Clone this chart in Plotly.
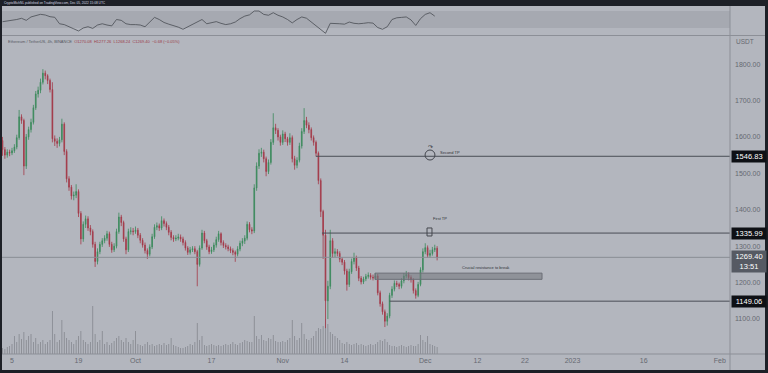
import pandas as pd
import plotly.graph_objects as go

# ---------------- data (ETH/USDT, 12h candles) ----------------
open_ = [1590,1565,1550,1558,1556,1562,1572,1598,1655,1645,1520,1600,1620,1640,1680,1718,1728,1750,1775,1768,
         1755,1730,1595,1588,1582,1592,1635,1560,1485,1462,1438,1440,1450,1390,1320,1360,1375,1350,1340,1305,
         1258,1285,1305,1315,1322,1334,1305,1290,1300,1340,1380,1365,1320,1290,1340,1342,1340,1344,1330,1316,
         1303,1288,1278,1298,1326,1352,1356,1350,1370,1362,1352,1338,1324,1320,1322,1325,1320,1310,1295,1283,
         1290,1293,1285,1250,1295,1336,1315,1298,1285,1290,1303,1318,1334,1310,1302,1298,1293,1288,1283,1278,
         1292,1308,1314,1322,1360,1345,1342,1460,1520,1555,1558,1540,1505,1530,1585,1625,1618,1600,1585,1608,
         1595,1585,1598,1540,1522,1536,1575,1615,1645,1632,1620,1598,1585,1555,1480,1395,1330,1150,1190,1315,
         1280,1285,1280,1264,1256,1232,1195,1230,1258,1268,1240,1212,1202,1210,1217,1220,1215,1213,1218,1172,
         1142,1120,1094,1108,1165,1182,1198,1195,1190,1205,1218,1222,1214,1208,1178,1165,1195,1235,1285,1296,
         1275,1280,1290,1294]
high = [1600,1572,1566,1565,1570,1580,1606,1674,1662,1650,1608,1628,1650,1688,1726,1738,1760,1786,1782,1772,
        1760,1750,1604,1596,1600,1650,1640,1566,1492,1468,1450,1470,1456,1396,1368,1384,1382,1358,1346,1312,
        1294,1312,1322,1330,1342,1340,1312,1308,1348,1392,1386,1370,1326,1348,1352,1350,1354,1350,1336,1322,
        1310,1294,1305,1334,1360,1365,1362,1382,1376,1368,1358,1344,1330,1330,1334,1332,1326,1316,1300,1298,
        1300,1300,1290,1302,1345,1342,1320,1304,1298,1310,1326,1342,1338,1316,1308,1304,1299,1294,1288,1300,
        1315,1322,1330,1368,1366,1352,1470,1530,1566,1570,1565,1546,1538,1594,1665,1636,1624,1606,1618,1614,
        1600,1610,1604,1548,1544,1584,1624,1679,1655,1640,1626,1604,1590,1560,1486,1400,1345,1205,1345,1322,
        1294,1292,1286,1270,1262,1238,1238,1266,1282,1274,1246,1218,1216,1224,1228,1226,1222,1226,1224,1178,
        1148,1126,1116,1172,1190,1206,1205,1200,1212,1226,1232,1228,1220,1212,1184,1202,1242,1294,1308,1302,
        1290,1298,1304,1300]
low = [1548,1540,1543,1547,1550,1556,1566,1592,1636,1495,1512,1592,1612,1634,1674,1708,1720,1744,1758,1745,
       1722,1585,1575,1570,1574,1585,1550,1475,1452,1428,1426,1432,1380,1305,1312,1350,1342,1330,1296,1243,
       1250,1278,1298,1308,1315,1298,1282,1284,1294,1334,1355,1312,1278,1284,1332,1330,1334,1322,1308,1296,
       1280,1265,1272,1292,1320,1344,1342,1344,1354,1344,1330,1316,1312,1314,1316,1312,1302,1288,1276,1277,
       1284,1278,1190,1244,1290,1308,1290,1278,1279,1284,1296,1312,1302,1295,1291,1286,1281,1275,1257,1272,
       1286,1300,1306,1316,1338,1333,1336,1452,1512,1545,1530,1492,1498,1524,1578,1608,1590,1576,1578,1586,
       1576,1578,1530,1510,1514,1530,1568,1608,1624,1610,1590,1576,1546,1470,1380,1265,1075,1100,1182,1268,
       1270,1272,1256,1248,1222,1178,1188,1224,1250,1232,1204,1195,1196,1204,1211,1208,1206,1207,1165,1134,
       1112,1078,1082,1102,1158,1176,1188,1182,1184,1198,1212,1206,1200,1170,1156,1160,1190,1228,1278,1268,
       1268,1274,1284,1261]
close = [1565,1550,1558,1556,1562,1572,1598,1655,1645,1520,1600,1620,1640,1680,1718,1728,1750,1775,1768,1755,
         1730,1595,1588,1582,1592,1635,1560,1485,1462,1438,1440,1450,1390,1320,1360,1375,1350,1340,1305,1258,
         1285,1305,1315,1322,1334,1305,1290,1300,1340,1380,1365,1320,1290,1340,1342,1340,1344,1330,1316,1303,
         1288,1278,1298,1326,1352,1356,1350,1370,1362,1352,1338,1324,1320,1322,1325,1320,1310,1295,1283,1290,
         1293,1285,1250,1295,1336,1315,1298,1285,1290,1303,1318,1334,1310,1302,1298,1293,1288,1283,1278,1292,
         1308,1314,1322,1360,1345,1342,1460,1520,1555,1558,1540,1505,1530,1585,1625,1618,1600,1585,1608,1595,
         1585,1598,1540,1522,1536,1575,1615,1645,1632,1620,1598,1585,1555,1480,1395,1330,1150,1190,1315,1280,
         1285,1280,1264,1256,1232,1195,1230,1258,1268,1240,1212,1202,1210,1217,1220,1215,1213,1218,1172,1142,
         1120,1094,1108,1165,1182,1198,1195,1190,1205,1218,1222,1214,1208,1178,1165,1195,1235,1285,1296,1275,
         1280,1290,1294,1269.4]
volume = [120,100,140,160,200,360,240,400,300,440,280,360,400,240,320,200,240,280,200,240,
          280,860,400,240,280,680,440,320,280,240,200,280,360,460,280,240,200,240,960,400,
          240,280,460,200,240,180,220,260,320,360,280,240,320,240,200,280,460,200,180,160,
          200,240,180,200,160,180,200,180,220,180,200,320,180,160,140,120,120,140,160,200,
          180,240,620,280,360,180,160,180,200,180,160,180,160,180,200,180,200,240,200,180,
          220,240,280,260,240,240,760,360,300,380,280,260,320,300,380,260,240,240,260,240,
          280,320,680,360,280,320,620,400,300,280,320,360,460,520,500,560,700,600,440,400,
          360,320,280,220,200,240,200,180,200,220,180,200,180,160,180,200,180,200,240,280,
          260,300,240,180,160,160,140,160,180,160,140,160,180,160,160,200,380,280,240,360,
          200,180,160,140]
rsi = [44.8,46,47.2,50,52.8,48,56,59.5,62.2,60.6,56.6,55.2,40,38,32,28,23,30,33,29,
       37,40,37,35,50,48,40,38,38,37,33,45,55,50,43,39,36,32,27,33,
       40,44,50,40,43,45,41,38,40,44,52,58,61,70,70,62,60,66,60,56,
       50,42,50,56,53,44,35,26,17.5,41,41,40,39,44,41,40,41,42.5,41.5,31,
       27,33,50,54,55,56,49,36,52,62,66,58]

x_tick_dates = ["2022-09-05","2022-09-19","2022-10-01","2022-10-17","2022-11-01","2022-11-14",
                "2022-12-01","2022-12-12","2022-12-22","2023-01-01","2023-01-16","2023-02-01"]
x_tick_text = ["5","19","Oct","17","Nov","14","Dec","12","22","2023","16","Feb"]

level_second_tp = 1546.83
level_first_tp = 1335.99
level_support = 1149.06
last_price = 1269.40
resist_low, resist_high = 1209, 1226

candle_dates = pd.date_range("2022-09-03", periods=len(close), freq="12h")
rsi_dates = pd.date_range("2022-09-03", periods=len(rsi), freq="D")

# ---------------- styling ----------------
W, H = 768, 373
BG = "#b3b6be"
BAND = "#a6a9b1"
DARK = "#1d2027"
LINE = "#4a4d55"
SEP = "#8c8f97"
TICK = "#666971"
UP = "#3b8a5c"
DOWN = "#a33848"
FONT = "Liberation Sans"

def px_x(p):
    return p / W

def px_y(p):
    return 1 - p / H

X_RANGE = ["2022-09-02 11:22", "2023-02-03 03:48"]
PLOT_RIGHT = px_x(730)
BAR_W = 4 * 3600 * 1000  # bar width in ms

fig = go.Figure()

fig.add_trace(go.Bar(
    x=candle_dates, y=volume, xaxis="x", yaxis="y", width=BAR_W,
    marker=dict(color="rgba(112,115,123,0.7)", line=dict(width=0)),
    hoverinfo="skip", showlegend=False))

fig.add_trace(go.Candlestick(
    x=candle_dates, open=open_, high=high, low=low, close=close,
    xaxis="x", yaxis="y2", whiskerwidth=0,
    increasing=dict(line=dict(color=UP, width=0.8), fillcolor=UP),
    decreasing=dict(line=dict(color=DOWN, width=0.8), fillcolor=DOWN),
    showlegend=False))

fig.add_trace(go.Scatter(
    x=rsi_dates, y=rsi, xaxis="x2", yaxis="y3", mode="lines",
    line=dict(color="#494c53", width=0.8), showlegend=False, hoverinfo="skip"))

main_dom = [px_y(354), px_y(36)]
rsi_dom = [px_y(35), px_y(6)]

fig.update_layout(
    width=W, height=H, margin=dict(l=0, r=0, t=0, b=0),
    paper_bgcolor=BG, plot_bgcolor=BG,
    font=dict(family=FONT, color=TICK),
    showlegend=False, boxgap=0.55,
    xaxis=dict(domain=[0, PLOT_RIGHT], range=X_RANGE, type="date", anchor="y2",
               rangeslider=dict(visible=False), showgrid=False, zeroline=False,
               showline=False, ticks="", tickmode="array",
               tickvals=x_tick_dates, ticktext=x_tick_text,
               tickfont=dict(size=7, color=TICK, family=FONT), ticklabelstandoff=1),
    xaxis2=dict(domain=[0, PLOT_RIGHT], range=X_RANGE, type="date", anchor="y3",
                visible=False, showgrid=False),
    yaxis=dict(domain=main_dom, range=[0, 6360], visible=False, showgrid=False),
    yaxis2=dict(overlaying="y", side="right", range=[1004, 1877], showgrid=False,
                zeroline=False, showline=False, ticks="", tickmode="linear",
                tick0=0, dtick=100, tickformat=".2f", anchor="x",
                tickfont=dict(size=7, color=TICK, family=FONT), ticklabelstandoff=4),
    yaxis3=dict(domain=rsi_dom, range=[13.5, 81.8], visible=False, showgrid=False,
                anchor="x2"),
)

shapes = []
shapes.append(dict(type="rect", xref="paper", yref="y3", x0=0, x1=PLOT_RIGHT, y0=30, y1=70,
                   fillcolor=BAND, line=dict(width=0), layer="below"))
shapes.append(dict(type="line", xref="paper", yref="y2", x0=0, x1=PLOT_RIGHT,
                   y0=last_price, y1=last_price, line=dict(color="#8a8d95", width=1)))
shapes.append(dict(type="line", xref="x", yref="y2", x0="2022-11-08 00:00", x1=X_RANGE[1],
                   y0=level_second_tp, y1=level_second_tp, line=dict(color=LINE, width=1)))
shapes.append(dict(type="line", xref="x", yref="y2", x0="2022-11-09 06:00", x1=X_RANGE[1],
                   y0=level_first_tp, y1=level_first_tp, line=dict(color=LINE, width=1)))
shapes.append(dict(type="line", xref="x", yref="y2", x0="2022-11-23 12:00", x1=X_RANGE[1],
                   y0=level_support, y1=level_support, line=dict(color=LINE, width=1)))
shapes.append(dict(type="rect", xref="x", yref="y2", x0="2022-11-20 10:00", x1="2022-12-25 14:00",
                   y0=resist_low, y1=resist_high, fillcolor="rgba(118,121,129,0.6)",
                   line=dict(color="#6c6f77", width=1)))
shapes.append(dict(type="circle", xref="x", yref="y2", x0="2022-11-30 23:00", x1="2022-12-03 01:00",
                   y0=1536.5, y1=1564, line=dict(color="#44474e", width=1)))
shapes.append(dict(type="rect", xref="x", yref="y2", x0="2022-12-01 09:00", x1="2022-12-02 10:00",
                   y0=1328, y1=1350, line=dict(color="#44474e", width=1)))
shapes.append(dict(type="line", xref="paper", yref="paper", x0=PLOT_RIGHT, x1=PLOT_RIGHT,
                   y0=px_y(370), y1=px_y(6), line=dict(color=SEP, width=1)))
shapes.append(dict(type="line", xref="paper", yref="paper", x0=0, x1=1,
                   y0=px_y(354), y1=px_y(354), line=dict(color=SEP, width=1)))
shapes.append(dict(type="line", xref="paper", yref="paper", x0=0, x1=1,
                   y0=px_y(35.5), y1=px_y(35.5), line=dict(color=SEP, width=1)))
shapes.append(dict(type="rect", xref="paper", yref="paper", x0=0, x1=1, y0=px_y(6), y1=1,
                   fillcolor=DARK, line=dict(width=0)))
shapes.append(dict(type="rect", xref="paper", yref="paper", x0=0, x1=1, y0=0, y1=px_y(370),
                   fillcolor=DARK, line=dict(width=0)))
shapes.append(dict(type="rect", xref="paper", yref="paper", x0=0, x1=px_x(2), y0=0, y1=1,
                   fillcolor=DARK, line=dict(width=0)))
shapes.append(dict(type="rect", xref="paper", yref="paper", x0=px_x(765), x1=1, y0=0, y1=1,
                   fillcolor=DARK, line=dict(width=0)))
fig.update_layout(shapes=shapes)

ann = []
def price_box(val, text, bg, yshift=0, yanchor="middle"):
    return dict(xref="paper", yref="y2", x=px_x(731), y=val, xanchor="left", yanchor=yanchor,
                text=text, showarrow=False, bgcolor=bg, width=32, align="center",
                borderpad=1, yshift=yshift,
                font=dict(size=7.5, color="#ffffff", family=FONT))

ann.append(price_box(level_second_tp, "1546.83", "#0e1015"))
ann.append(price_box(level_first_tp, "1335.99", "#0e1015"))
ann.append(price_box(level_support, "1149.06", "#0e1015"))
ann.append(price_box(last_price, "1269.40<br>13:51", "#565a63", yshift=7, yanchor="top"))

ann.append(dict(xref="paper", yref="paper", x=px_x(734), y=px_y(42), xanchor="left",
                yanchor="middle", text="USDT", showarrow=False,
                font=dict(size=6.5, color=TICK, family=FONT)))
ann.append(dict(xref="x", yref="y2", x="2022-12-03 17:00", y=1558, xanchor="left",
                yanchor="middle", text="Second TP", showarrow=False,
                font=dict(size=4, color="#2f3238", family=FONT)))
ann.append(dict(xref="x", yref="y2", x="2022-12-02 05:00", y=1376, xanchor="left",
                yanchor="middle", text="First TP", showarrow=False,
                font=dict(size=4, color="#2f3238", family=FONT)))
ann.append(dict(xref="x", yref="y2", x="2022-12-13 17:00", y=1241, xanchor="center",
                yanchor="middle", text="Crucial resistance to break", showarrow=False,
                font=dict(size=4, color="#2f3238", family=FONT)))
ann.append(dict(xref="x", yref="y2", x="2022-12-02 00:00", y=1574, xanchor="center",
                yanchor="middle", text="↷", showarrow=False,
                font=dict(size=6, color="#2f3238", family="DejaVu Sans")))
ann.append(dict(xref="paper", yref="paper", x=px_x(6), y=px_y(41.5), xanchor="left",
                yanchor="middle", showarrow=False,
                text=("<span style='color:#55585f'>Ethereum / TetherUS, 4h, BINANCE</span>  "
                      "<span style='color:#9c3d4a'>O1270.08  H1277.26  L1268.24  C1269.40  −0.68 (−0.05%)</span>"),
                font=dict(size=4, family=FONT)))
ann.append(dict(xref="paper", yref="paper", x=px_x(2), y=px_y(2.8), xanchor="left",
                yanchor="middle", showarrow=False,
                text="CryptoMichNL published on TradingView.com, Dec 05, 2022 15:08 UTC",
                font=dict(size=3.2, color="#d6d9e0", family=FONT)))
fig.update_layout(annotations=ann)

fig.write_html("out.html")
